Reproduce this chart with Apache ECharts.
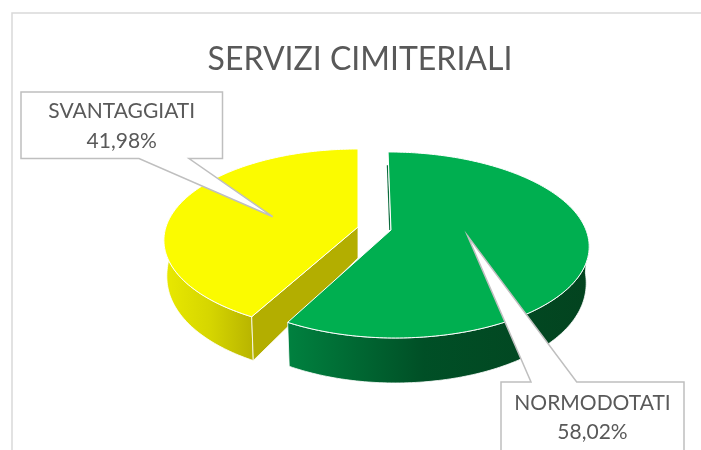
<!DOCTYPE html>
<html><head><meta charset="utf-8">
<style>html,body{margin:0;padding:0;background:#fff}#c{width:701px;height:450px}</style>
<script src="https://cdn.jsdelivr.net/npm/echarts@6/dist/echarts.min.js"></script>
</head><body><div id="c"></div>
<script>
const titleText = 'SERVIZI CIMITERIALI';
const categories = ['NORMODOTATI', 'SVANTAGGIATI'];
const values = [58.02, 41.98];

const FONT = 'Lato, "Open Sans", sans-serif';
const total = values.reduce((a, b) => a + b, 0);
const shapes = [
  { ax: 391, ay: 230, rxR: 195, rxL: 190, ry: 90.6, p: 0.161, shear: -3.4, wallFrom: 95, wallTo: null,
    top: '#00af50', wallStops: [[0, '#00813f'], [0.45, '#004f26'], [1, '#03431f']], wallX: [288, 590],
    box: [501, 382, 684, 470], tailEdge: 'top', tail: [[531, 382], [467.7, 236], [576.7, 382]], textY: [403, 432] },
  { ax: 358, ay: 227, rxR: 190, rxL: 192, ry: 89.4, p: 0.146, shear: 0, wallFrom: null, wallTo: 275,
    top: '#fbfb00', cut: '#b3ae00', wallStops: [[0, '#e8e800'], [0.5, '#d6d600'], [1, '#b8b400']], wallX: [166, 253],
    box: [21, 92, 222.5, 158.5], tailEdge: 'bottom', tail: [[139, 158.5], [272.7, 216.7], [189, 158.5]], textY: [111, 141] }
];

function rimPoint(s, deg) {
  const t = deg * Math.PI / 180, u = Math.sin(t), v = Math.cos(t), w = 1 + s.p * v;
  return [s.ax + ((u < 0 ? s.rxL : s.rxR) * u + s.shear * v) / w, s.ay - s.ry * v / w];
}
function lower(s, pt) {
  const o = Math.max(0, pt[1] - s.ay);
  return [s.ax + (pt[0] - s.ax) * 0.985, pt[1] + 31 + 14 * Math.sqrt(o / 108)];
}
function arc(s, a, b) {
  const out = [], n = Math.max(2, Math.ceil(Math.abs(b - a)));
  for (let i = 0; i <= n; i++) out.push(rimPoint(s, a + (b - a) * i / n));
  return out;
}
function renderSlice(params, api) {
  const i = params.dataIndex, s = shapes[i];
  let before = 0;
  for (let k = 0; k < i; k++) before += values[k];
  const a0 = before / total * 360, a1 = (before + api.value(0)) / total * 360;
  const apex = [s.ax, s.ay], kids = [];
  const from = s.wallFrom === null ? a0 : s.wallFrom;
  const to = s.wallTo === null ? a1 : s.wallTo;
  const topRim = arc(s, from, to);
  const base = 2 * (1 - i);
  const grad = new echarts.graphic.LinearGradient(s.wallX[0], 0, s.wallX[1], 0,
    s.wallStops.map(c => ({ offset: c[0], color: c[1] })), true);
  kids.push({ type: 'polygon', z2: base + 1,
    shape: { points: topRim.concat(topRim.map(p => lower(s, p)).reverse()) },
    style: { fill: grad, stroke: '#fff', lineWidth: 0.8 } });
  if (s.cut) {
    const c = rimPoint(s, a0);
    kids.push({ type: 'polygon', z2: base + 1,
      shape: { points: [apex, c, lower(s, c), lower(s, apex)] },
      style: { fill: s.cut, stroke: '#fff', lineWidth: 0.8 } });
  } else {
    const r = rimPoint(s, a0);
    kids.push({ type: 'line', z2: base + 1,
      shape: { x1: s.ax - 1.2, y1: s.ay, x2: s.ax + (r[0] - s.ax) * 0.83 - 1.2, y2: s.ay + (r[1] - s.ay) * 0.83 },
      style: { stroke: '#0b6b3c', lineWidth: 1.2 } });
  }
  kids.push({ type: 'polygon', z2: base + 2,
    shape: { points: [apex].concat(arc(s, a0, a1)) },
    style: { fill: s.top, stroke: '#fff', lineWidth: 1 } });
  return { type: 'group', children: kids };
}
function renderCallout(params, api) {
  const i = params.dataIndex, s = shapes[i], b = s.box, t = s.tail;
  const line = { stroke: '#bfbfbf', lineWidth: 1.5 };
  const text = [categories[i], api.value(0).toFixed(2).replace('.', ',') + '%'];
  const cx = (b[0] + b[2]) / 2;
  const outline = s.tailEdge === 'top'
    ? [[b[0], b[1]], t[0], t[1], t[2], [b[2], b[1]], [b[2], b[3]], [b[0], b[3]]]
    : [[b[0], b[1]], [b[2], b[1]], [b[2], b[3]], t[2], t[1], t[0], [b[0], b[3]]];
  return { type: 'group', children: [
    { type: 'polygon', z2: 20, shape: { points: outline },
      style: Object.assign({ fill: '#fff' }, line) },
    { type: 'text', z2: 21, style: { text: text[0], x: cx, y: s.textY[0], align: 'center', verticalAlign: 'middle', font: '21px ' + FONT, fill: '#595959' } },
    { type: 'text', z2: 21, style: { text: text[1], x: cx, y: s.textY[1], align: 'center', verticalAlign: 'middle', font: '21px ' + FONT, fill: '#595959' } }
  ] };
}
const chart = echarts.init(document.getElementById('c'), null, { renderer: 'canvas' });
const seriesData = values.map((v, i) => ({ name: categories[i], value: [v] }));
chart.setOption({
  animation: false,
  backgroundColor: '#fff',
  title: { text: titleText, left: 355, top: 39, textAlign: 'center',
    textStyle: { fontFamily: FONT, fontWeight: 400, fontSize: 32, color: '#595959' } },
  graphic: [
    { type: 'polyline', silent: true, z: 0, shape: { points: [[701, 13], [12, 13], [12, 450]] }, style: { fill: 'none', stroke: '#d9d9d9', lineWidth: 1.5 } }
  ],
  series: [
    { type: 'custom', coordinateSystem: 'none', renderItem: renderSlice, data: seriesData, silent: true, z: 2 },
    { type: 'custom', coordinateSystem: 'none', renderItem: renderCallout, data: seriesData, silent: true, z: 3 }
  ]
});
</script></body></html>
